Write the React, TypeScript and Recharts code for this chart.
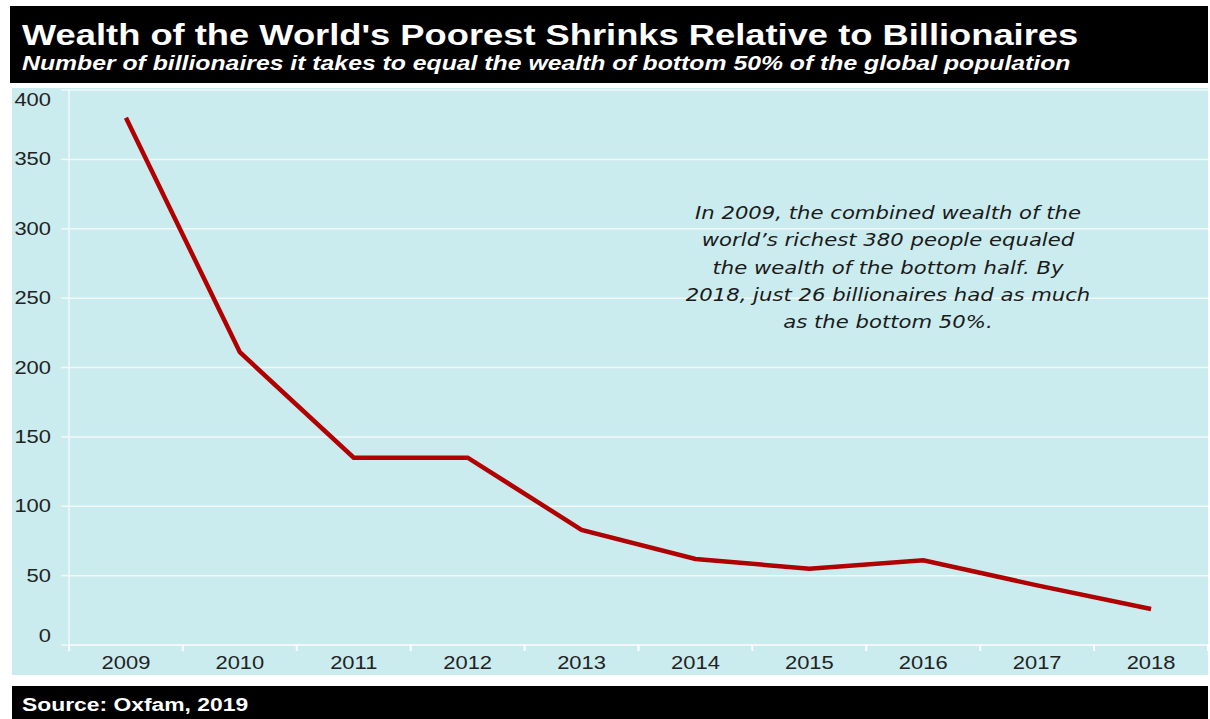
import React from "react";
import { LineChart, Line, XAxis, YAxis, CartesianGrid } from "recharts";

const years = ["2009", "2010", "2011", "2012", "2013", "2014", "2015", "2016", "2017", "2018"];
const billionaires = [380, 211, 135, 135, 83, 62, 55, 61, 43, 26];
const yTicks = [0, 50, 100, 150, 200, 250, 300, 350, 400];

const data = years.map((year, i) => ({ year, value: billionaires[i] }));

const CHART_W = 1196;
const CHART_H = 587;
const Y_AXIS_W = 57;
const BAND = (CHART_W - Y_AXIS_W) / years.length;
const STRETCH = 1.22;

const YTick = (props: any) => {
  const { x, y, payload } = props;
  let dy = 6;
  if (payload.value === 0) dy = -3;
  if (payload.value === 400) dy = 16;
  return (
    <text
      transform={`translate(${x - 8},${y + dy}) scale(${STRETCH},1)`}
      textAnchor="end"
      fontSize={18}
      fill="#222"
      fontFamily="Liberation Sans, Arial, sans-serif"
    >
      {payload.value}
    </text>
  );
};

const XTick = (props: any) => {
  const { x, y, payload, index } = props;
  const left = x - BAND / 2;
  return (
    <g>
      <line x1={left} x2={left} y1={y - 8} y2={y - 2} stroke="#ffffff" strokeWidth={2} />
      {index === years.length - 1 && (
        <line x1={x + BAND / 2} x2={x + BAND / 2} y1={y - 8} y2={y - 2} stroke="#ffffff" strokeWidth={2} />
      )}
      <text
        transform={`translate(${x},${y + 16}) scale(${STRETCH},1)`}
        textAnchor="middle"
        fontSize={18}
        fill="#222"
        fontFamily="Liberation Sans, Arial, sans-serif"
      >
        {payload.value}
      </text>
    </g>
  );
};

const App: React.FC = () => {
  return (
    <div
      style={{
        position: "fixed",
        left: 0,
        top: 0,
        width: 1210,
        height: 719,
        background: "#ffffff",
        fontFamily: "Liberation Sans, Arial, sans-serif",
        overflow: "hidden",
      }}
    >
      <div
        style={{
          position: "absolute",
          left: 10,
          top: 6,
          width: 1198,
          height: 77,
          background: "#000",
          color: "#fff",
        }}
      >
        <div
          style={{
            position: "absolute",
            left: 12,
            top: 12,
            fontSize: 30,
            fontWeight: "bold",
            whiteSpace: "nowrap",
            transform: "scaleX(1.21)",
            transformOrigin: "left center",
          }}
        >
          Wealth of the World's Poorest Shrinks Relative to Billionaires
        </div>
        <div
          style={{
            position: "absolute",
            left: 12,
            top: 46,
            fontSize: 19.5,
            fontWeight: "bold",
            fontStyle: "italic",
            whiteSpace: "nowrap",
            transform: "scaleX(1.27)",
            transformOrigin: "left center",
          }}
        >
          Number of billionaires it takes to equal the wealth of bottom 50% of the global population
        </div>
      </div>

      <div
        style={{
          position: "absolute",
          left: 12,
          top: 88,
          width: CHART_W,
          height: CHART_H,
          background: "#cbecef",
        }}
      >
        <LineChart width={CHART_W} height={CHART_H} data={data} margin={{ top: 2, right: 0, bottom: 0, left: 0 }}>
          <CartesianGrid vertical={false} stroke="#f2f8f8" strokeWidth={1.5} />
          <XAxis
            dataKey="year"
            height={30}
            axisLine={{ stroke: "#f2f8f8", strokeWidth: 2 }}
            tickLine={false}
            tick={<XTick />}
            interval={0}
            padding={{ left: BAND / 2, right: BAND / 2 }}
          />
          <YAxis
            width={Y_AXIS_W}
            domain={[0, 400]}
            ticks={yTicks}
            axisLine={{ stroke: "#f2f8f8", strokeWidth: 1.5 }}
            tickLine={{ stroke: "#f2f8f8", strokeWidth: 1.5 }}
            tickSize={8}
            tick={<YTick />}
            interval={0}
          />
          <Line
            type="linear"
            dataKey="value"
            stroke="#b00000"
            strokeWidth={4.5}
            dot={false}
            isAnimationActive={false}
          />
        </LineChart>

        <div
          style={{
            position: "absolute",
            left: 888 - 12 - 230,
            top: 112,
            width: 460,
            textAlign: "center",
            fontFamily: "DejaVu Sans, Verdana, sans-serif",
            fontStyle: "italic",
            fontSize: 17.5,
            lineHeight: "27.3px",
            color: "#1a1a1a",
            transform: "scaleX(1.21)",
            transformOrigin: "center center",
          }}
        >
          In 2009, the combined wealth of the
          <br />
          world’s richest 380 people equaled
          <br />
          the wealth of the bottom half. By
          <br />
          2018, just 26 billionaires had as much
          <br />
          as the bottom 50%.
        </div>
      </div>

      <div
        style={{
          position: "absolute",
          left: 12,
          top: 686,
          width: 1196,
          height: 40,
          background: "#000",
          color: "#fff",
        }}
      >
        <div
          style={{
            position: "absolute",
            left: 10,
            top: 9,
            fontSize: 18,
            fontWeight: "bold",
            whiteSpace: "nowrap",
            transform: "scaleX(1.27)",
            transformOrigin: "left center",
          }}
        >
          Source: Oxfam, 2019
        </div>
      </div>
    </div>
  );
};

export default App;
